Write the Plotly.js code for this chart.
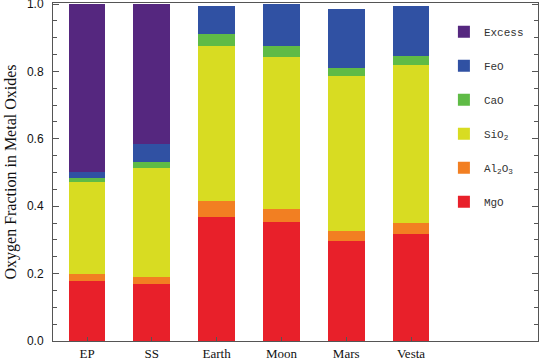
<!DOCTYPE html>
<html>
<head>
<meta charset="utf-8">
<script src="https://cdn.plot.ly/plotly-3.0.1.min.js"></script>
<style>html,body{margin:0;padding:0;background:#fff}#chart{width:540px;height:359px}</style>
</head>
<body>
<div id="chart"></div>
<script>
const categories = ["EP", "SS", "Earth", "Moon", "Mars", "Vesta"];
const MgO    = [0.179, 0.169, 0.369, 0.352, 0.297, 0.318];
const Al2O3  = [0.020, 0.020, 0.046, 0.040, 0.029, 0.031];
const SiO2   = [0.274, 0.324, 0.459, 0.451, 0.460, 0.470];
const CaO    = [0.010, 0.019, 0.037, 0.033, 0.024, 0.027];
const FeO    = [0.018, 0.053, 0.083, 0.123, 0.175, 0.149];
const Excess = [0.499, 0.415, 0.000, 0.000, 0.000, 0.000];
const yTickVals = [0, 0.2, 0.4, 0.6, 0.8, 1.0];
const yTickText = ["0.0", "0.2", "0.4", "0.6", "0.8", "1.0"];

const series = [
  {name: "MgO", y: MgO, color: "#e8202a"},
  {name: "Al<sub>2</sub>O<sub>3</sub>", y: Al2O3, color: "#f27f22"},
  {name: "SiO<sub>2</sub>", y: SiO2, color: "#d8dc22"},
  {name: "CaO", y: CaO, color: "#5fbb46"},
  {name: "FeO", y: FeO, color: "#3051a3"},
  {name: "Excess", y: Excess, color: "#55277f"}
];

const traces = series.map((s, i) => ({
  type: "bar",
  x: categories.map((c, j) => j),
  y: s.y,
  name: s.name,
  legendgroup: "g" + i,
  legendrank: 1000 - i,
  marker: {color: s.color, line: {width: 0}},
  width: 0.57,
  hoverinfo: "skip"
}));

const axisColor = "#555555";
const layout = {
  width: 540, height: 359,
  margin: {l: 53, r: 2, t: 3, b: 18},
  paper_bgcolor: "#fff", plot_bgcolor: "#fff",
  barmode: "stack",
  showlegend: true,
  legend: {
    x: 0.806, y: 0.958, xanchor: "left", yanchor: "top",
    traceorder: "grouped",
    tracegroupgap: 15,
    font: {family: "Liberation Mono, DejaVu Sans Mono, monospace", size: 11, color: "#333"},
    bgcolor: "rgba(0,0,0,0)"
  },
  xaxis: {
    range: [-0.525, 6.96],
    tickvals: categories.map((c, j) => j),
    ticktext: categories,
    ticks: "inside", ticklen: 4, tickcolor: axisColor,
    showline: true, linecolor: axisColor, linewidth: 1, mirror: true,
    showgrid: false, zeroline: false,
    tickfont: {family: "Liberation Serif, Times New Roman, serif", size: 13, color: "#111"},
    ticklabelstandoff: 0,
    ticklabeloverflow: "allow"
  },
  yaxis: {
    range: [0, 1.003],
    tickvals: yTickVals, ticktext: yTickText,
    ticks: "inside", ticklen: 6, tickcolor: axisColor,
    minor: {dtick: 0.05, ticks: "inside", ticklen: 4, tickcolor: axisColor, showgrid: false},
    showline: true, linecolor: axisColor, linewidth: 1, mirror: "ticks",
    showgrid: false, zeroline: false,
    tickfont: {family: "Liberation Sans Narrow, Liberation Sans, Arial, sans-serif", size: 12, color: "#111"},
    ticklabelstandoff: 6,
    ticklabeloverflow: "allow",
    title: {text: "Oxygen Fraction in Metal Oxides", font: {family: "Liberation Serif, Times New Roman, serif", size: 16, color: "#111"}, standoff: 6}
  }
};

Plotly.newPlot("chart", traces, layout, {displayModeBar: false, staticPlot: true});
</script>
</body>
</html>
